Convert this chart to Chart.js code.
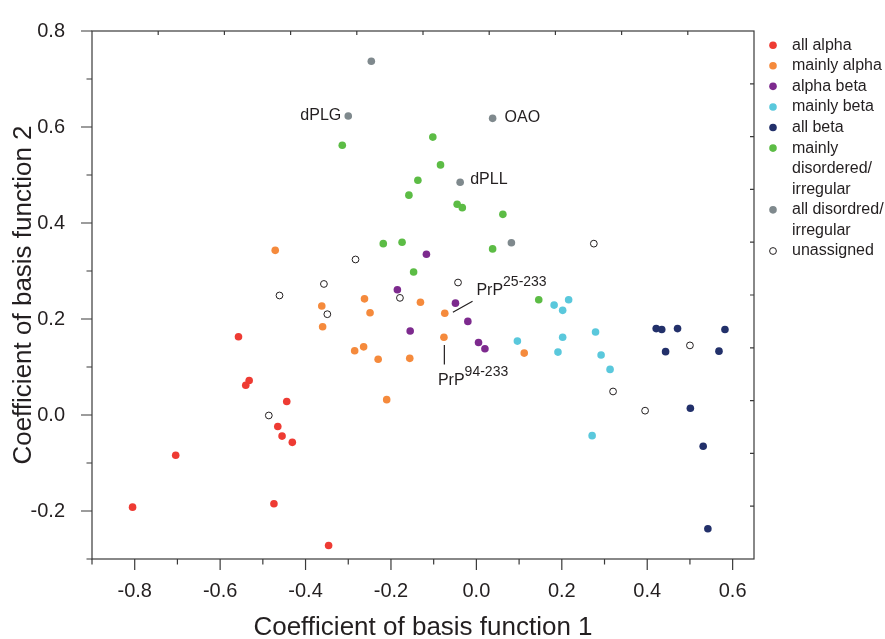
<!DOCTYPE html>
<html>
<head>
<meta charset="utf-8">
<title>Basis function coefficients</title>
<script src="https://cdn.jsdelivr.net/npm/chart.js@4.4.1/dist/chart.umd.min.js"></script>
<style>
  html, body { margin: 0; padding: 0; background: #fff; }
  #wrap { width: 885px; height: 639px; }
</style>
</head>
<body>
<div id="wrap"><canvas id="chart" width="885" height="639"></canvas></div>
<script>
// Data
const allAlphaX = [-0.557, -0.532, -0.540, -0.444, -0.465, -0.455, -0.431, -0.704, -0.805, -0.474, -0.346];
const allAlphaY = [0.163, 0.072, 0.062, 0.028, -0.024, -0.044, -0.057, -0.084, -0.192, -0.185, -0.272];

const mainlyAlphaX = [-0.471, -0.362, -0.360, -0.262, -0.131, -0.249, -0.074, -0.076, -0.264, -0.285, -0.230, -0.156, -0.210, 0.112];
const mainlyAlphaY = [0.343, 0.227, 0.184, 0.242, 0.235, 0.213, 0.212, 0.162, 0.142, 0.134, 0.116, 0.118, 0.032, 0.129];

const alphaBetaX = [-0.185, -0.117, -0.049, -0.020, -0.155, 0.005, 0.020];
const alphaBetaY = [0.261, 0.335, 0.233, 0.195, 0.175, 0.151, 0.138];

const mainlyBetaX = [0.096, 0.182, 0.216, 0.202, 0.202, 0.191, 0.279, 0.292, 0.313, 0.271];
const mainlyBetaY = [0.154, 0.229, 0.240, 0.218, 0.162, 0.131, 0.173, 0.125, 0.095, -0.043];

const allBetaX = [0.421, 0.434, 0.471, 0.582, 0.443, 0.568, 0.501, 0.531, 0.542];
const allBetaY = [0.180, 0.178, 0.180, 0.178, 0.132, 0.133, 0.014, -0.065, -0.237];

const mainlyDisX = [-0.314, -0.102, -0.084, -0.137, -0.158, -0.045, -0.033, 0.062, -0.218, -0.174, 0.038, -0.147, 0.146];
const mainlyDisY = [0.562, 0.579, 0.521, 0.489, 0.458, 0.439, 0.432, 0.418, 0.357, 0.360, 0.346, 0.298, 0.240];

const allDisX = [-0.246, -0.300, 0.038, -0.038, 0.082];
const allDisY = [0.737, 0.623, 0.618, 0.485, 0.359];

const unassignedX = [-0.283, -0.357, -0.043, 0.275, -0.461, -0.349, -0.486, -0.179, 0.320, 0.395, 0.500];
const unassignedY = [0.324, 0.273, 0.276, 0.357, 0.249, 0.210, -0.001, 0.244, 0.049, 0.009, 0.145];

const legendLabels = ['all alpha', 'mainly alpha', 'alpha beta', 'mainly beta', 'all beta',
  'mainly\ndisordered/\nirregular', 'all disordred/\nirregular', 'unassigned'];
const colors = ['#ee3b33', '#f58a3c', '#7d2a8e', '#5ac8dc', '#22306a', '#5cbc45', '#7f898d', '#ffffff'];

const xTickValues = [-0.8, -0.6, -0.4, -0.2, 0, 0.2, 0.4, 0.6];
const xMinorValues = [-0.9, -0.7, -0.5, -0.3, -0.1, 0.1, 0.3, 0.5];
const yTickValues = [-0.2, 0, 0.2, 0.4, 0.6, 0.8];
const yMinorValues = [-0.3, -0.1, 0.1, 0.3, 0.5, 0.7];

// labelled points: index into allDis arrays
const pointNames = [
  { i: 1, text: 'dPLG', dx: -7, dy: 0, align: 'right' },
  { i: 2, text: 'OAO', dx: 12, dy: -1, align: 'left' },
  { i: 3, text: 'dPLL', dx: 10, dy: -3, align: 'left' }
];

const ink = '#231f20';
const fontFamily = "'Liberation Sans', Arial, Helvetica, sans-serif";
Chart.defaults.font.family = fontFamily;
Chart.defaults.color = ink;

const toPoints = (xs, ys) => xs.map((x, i) => ({ x: x, y: ys[i] }));
const seriesX = [allAlphaX, mainlyAlphaX, alphaBetaX, mainlyBetaX, allBetaX, mainlyDisX, allDisX, unassignedX];
const seriesY = [allAlphaY, mainlyAlphaY, alphaBetaY, mainlyBetaY, allBetaY, mainlyDisY, allDisY, unassignedY];

const datasets = seriesX.map((xs, k) => {
  const open = k === seriesX.length - 1;
  return {
    label: legendLabels[k].replace(/\n/g, ' '),
    data: toPoints(xs, seriesY[k]),
    backgroundColor: colors[k],
    borderColor: open ? ink : colors[k],
    borderWidth: open ? 1 : 0,
    pointRadius: open ? 3.4 : 3.8,
    pointHoverRadius: open ? 3.4 : 3.8
  };
});

// Frame, ticks, annotations and legend
const decorations = {
  id: 'decorations',
  afterDatasetsDraw(chart) {
    const { ctx, chartArea: a, scales: { x, y } } = chart;
    ctx.save();
    ctx.strokeStyle = '#3a3a3a';
    ctx.lineWidth = 1.2;
    ctx.strokeRect(a.left, a.top, a.right - a.left, a.bottom - a.top);

    ctx.beginPath();
    // bottom (outward)
    xTickValues.forEach(v => { const px = x.getPixelForValue(v); ctx.moveTo(px, a.bottom); ctx.lineTo(px, a.bottom + 11); });
    xMinorValues.forEach(v => { const px = x.getPixelForValue(v); ctx.moveTo(px, a.bottom); ctx.lineTo(px, a.bottom + 5.5); });
    // left (outward)
    yTickValues.forEach(v => { const py = y.getPixelForValue(v); ctx.moveTo(a.left, py); ctx.lineTo(a.left - 11, py); });
    yMinorValues.forEach(v => { const py = y.getPixelForValue(v); ctx.moveTo(a.left, py); ctx.lineTo(a.left - 5.5, py); });
    // top and right (inward, ten even steps)
    for (let k = 1; k < 10; k++) {
      const px = a.left + (a.right - a.left) * k / 10;
      ctx.moveTo(px, a.top); ctx.lineTo(px, a.top + 4);
      const py = a.top + (a.bottom - a.top) * k / 10;
      ctx.moveTo(a.right, py); ctx.lineTo(a.right - 4, py);
    }
    ctx.stroke();

    // names next to points
    ctx.fillStyle = ink;
    ctx.font = '16px ' + fontFamily;
    ctx.textBaseline = 'middle';
    pointNames.forEach(p => {
      ctx.textAlign = p.align;
      ctx.fillText(p.text, x.getPixelForValue(allDisX[p.i]) + p.dx, y.getPixelForValue(allDisY[p.i]) + p.dy);
    });

    // PrP labels with leader lines
    const prp = (lx, ly, sup) => {
      const px = x.getPixelForValue(lx), py = y.getPixelForValue(ly);
      ctx.textAlign = 'left';
      ctx.textBaseline = 'alphabetic';
      ctx.font = '16px ' + fontFamily;
      ctx.fillText('PrP', px, py);
      const w = ctx.measureText('PrP').width;
      ctx.font = '14px ' + fontFamily;
      ctx.fillText(sup, px + w, py - 9);
    };
    ctx.strokeStyle = ink;
    ctx.lineWidth = 1.2;
    ctx.beginPath();
    ctx.moveTo(x.getPixelForValue(-0.055), y.getPixelForValue(0.214));
    ctx.lineTo(x.getPixelForValue(-0.009), y.getPixelForValue(0.237));
    ctx.moveTo(x.getPixelForValue(-0.075), y.getPixelForValue(0.146));
    ctx.lineTo(x.getPixelForValue(-0.075), y.getPixelForValue(0.105));
    ctx.stroke();
    prp(0.0, 0.251, '25-233');
    prp(-0.090, 0.062, '94-233');

    // legend
    let row = 0;
    const lx = 773, ty = 45.2, step = 20.58;
    legendLabels.forEach((lab, k) => {
      const cy = ty + row * step;
      ctx.beginPath();
      const open = k === legendLabels.length - 1;
      ctx.arc(lx, cy, open ? 3.4 : 3.8, 0, Math.PI * 2);
      ctx.fillStyle = colors[k];
      ctx.fill();
      if (open) { ctx.lineWidth = 1; ctx.strokeStyle = ink; ctx.stroke(); }
      ctx.fillStyle = ink;
      ctx.font = '16px ' + fontFamily;
      ctx.textAlign = 'left';
      ctx.textBaseline = 'middle';
      lab.split('\n').forEach(line => {
        ctx.fillText(line, 792, ty + row * step);
        row++;
      });
    });
    ctx.restore();
  }
};

const chart = new Chart(document.getElementById('chart'), {
  type: 'scatter',
  data: { datasets: datasets },
  options: {
    responsive: false,
    animation: false,
    devicePixelRatio: 1,
    layout: { padding: { top: 25, right: 131, left: 0, bottom: 0 } },
    plugins: {
      legend: { display: false },
      tooltip: { enabled: false }
    },
    scales: {
      x: {
        type: 'linear',
        min: -0.9,
        max: 0.65,
        afterFit: s => { s.height = 80; },
        afterBuildTicks: s => { s.ticks = xTickValues.map(v => ({ value: v })); },
        grid: { display: false },
        border: { display: false },
        ticks: {
          padding: 12,
          font: { size: 20 },
          color: ink,
          callback: v => v.toFixed(1)
        },
        title: {
          display: true,
          text: 'Coefficient of basis function 1',
          font: { size: 26, lineHeight: 0.88 },
          padding: { top: 0, bottom: 0 },
          color: ink
        }
      },
      y: {
        type: 'linear',
        min: -0.3,
        max: 0.8,
        afterFit: s => { s.width = 92; },
        afterBuildTicks: s => { s.ticks = yTickValues.map(v => ({ value: v })); },
        grid: { display: false },
        border: { display: false },
        ticks: {
          padding: 19,
          font: { size: 20 },
          color: ink,
          callback: v => v.toFixed(1)
        },
        title: {
          display: true,
          text: 'Coefficient of basis function 2',
          font: { size: 26, lineHeight: 1 },
          padding: { top: 11, bottom: 0 },
          color: ink
        }
      }
    }
  },
  plugins: [decorations]
});
</script>
</body>
</html>
